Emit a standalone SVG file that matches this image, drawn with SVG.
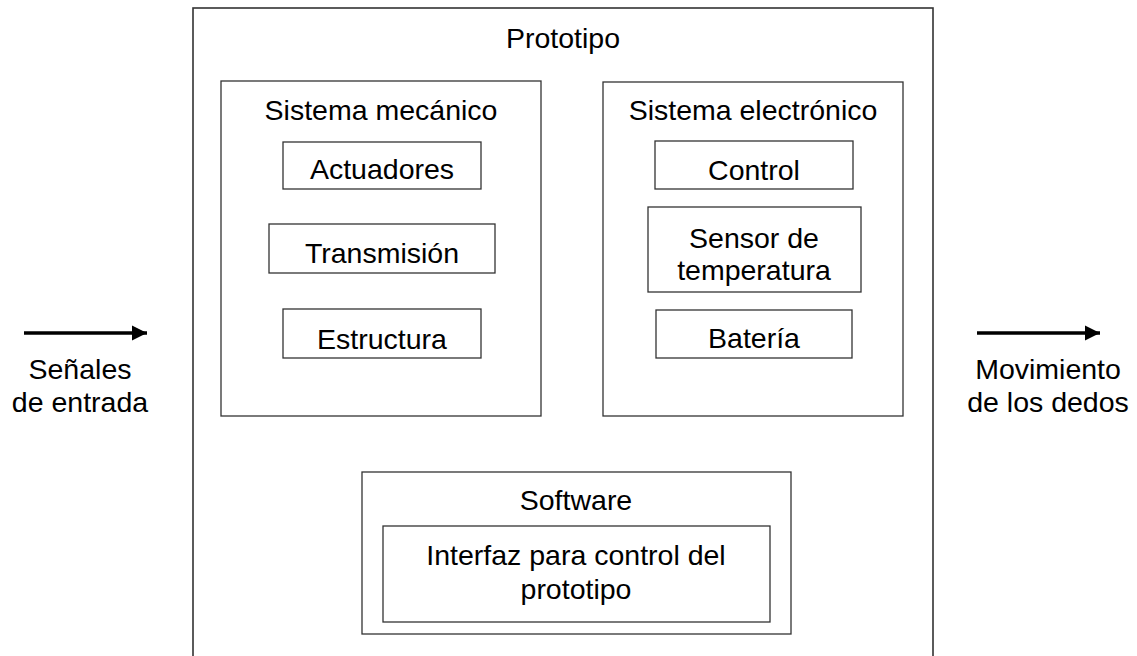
<svg xmlns="http://www.w3.org/2000/svg" width="1137" height="656" viewBox="0 0 1137 656">
<style>
.box{fill:#fff;stroke:#333;stroke-width:1.3}
.outer{fill:#fff;stroke:#333;stroke-width:1.6}
.t{font-family:"Liberation Sans",Arial,sans-serif;font-size:28.5px;fill:#000;text-anchor:middle}
.arr{stroke:#000;stroke-width:3.5;fill:none}
</style>
<defs>
<marker id="ah" viewBox="0 0 10 10" refX="10" refY="5" markerWidth="4.3" markerHeight="4.3" markerUnits="strokeWidth" orient="auto">
<path d="M0,0 L10,5 L0,10 Z" fill="#000"/>
</marker>
</defs>
<rect width="1137" height="656" fill="#fff"/>
<g id="prototipo">
<rect class="outer" x="193" y="8" width="740" height="660"/>
<text class="t" x="563" y="48">Prototipo</text>
</g>
<g id="sistema-mecanico">
<rect class="box" x="221" y="81" width="320" height="335"/>
<text class="t" x="381" y="120">Sistema mecánico</text>
</g>
<g id="actuadores">
<rect class="box" x="283" y="142" width="198" height="47"/>
<text class="t" x="382" y="179">Actuadores</text>
</g>
<g id="transmision">
<rect class="box" x="269" y="224" width="226" height="49"/>
<text class="t" x="382" y="263">Transmisión</text>
</g>
<g id="estructura">
<rect class="box" x="283" y="309" width="198" height="49"/>
<text class="t" x="382" y="349">Estructura</text>
</g>
<g id="sistema-electronico">
<rect class="box" x="603" y="82" width="300" height="334"/>
<text class="t" x="753" y="120">Sistema electrónico</text>
</g>
<g id="control">
<rect class="box" x="655" y="141" width="198" height="48"/>
<text class="t" x="754" y="180">Control</text>
</g>
<g id="sensor">
<rect class="box" x="648" y="207" width="213" height="85"/>
<text class="t" x="754" y="248">Sensor de</text>
<text class="t" x="754" y="280">temperatura</text>
</g>
<g id="bateria">
<rect class="box" x="656" y="310" width="196" height="48"/>
<text class="t" x="754" y="348">Batería</text>
</g>
<g id="software">
<rect class="box" x="362" y="472" width="429" height="162"/>
<text class="t" x="576" y="510">Software</text>
</g>
<g id="interfaz">
<rect class="box" x="383" y="526" width="387" height="96"/>
<text class="t" x="576" y="565">Interfaz para control del</text>
<text class="t" x="576" y="599">prototipo</text>
</g>
<g id="connectors">
<line class="arr" x1="24" y1="333" x2="147" y2="333" marker-end="url(#ah)"/>
<line class="arr" x1="977" y1="333" x2="1100" y2="333" marker-end="url(#ah)"/>
</g>
<g id="senales">
<text class="t" x="80" y="379">Señales</text>
<text class="t" x="80" y="412">de entrada</text>
</g>
<g id="movimiento">
<text class="t" x="1048" y="379">Movimiento</text>
<text class="t" x="1048" y="412">de los dedos</text>
</g>
</svg>
